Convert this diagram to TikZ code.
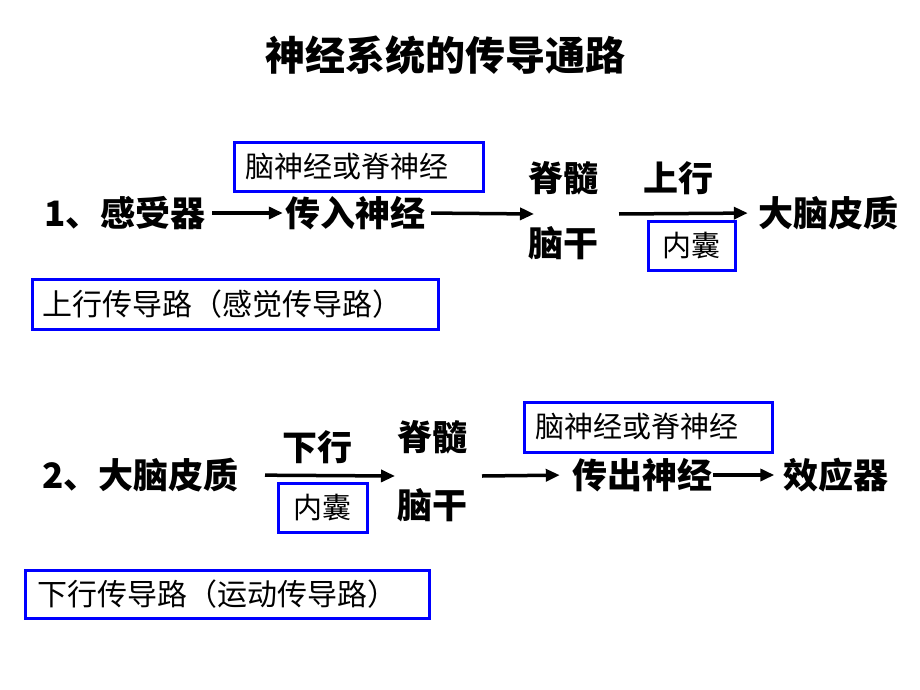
\documentclass[tikz,border=0pt]{standalone}
\usepackage{fontspec}
\setmainfont{Liberation Sans}
\newfontfamily\cjk{Noto Sans CJK SC}
\usetikzlibrary{arrows.meta}
\tikzset{
  big/.style={font=\cjk\bfseries\fontsize{35}{40}\selectfont,inner sep=0pt},
  small/.style={font=\cjk\fontsize{29}{34}\selectfont},
  bluebox/.style={draw=blue,line width=3pt,inner ysep=0pt,align=left},
  arr/.style={-{Triangle[length=14pt,width=12pt]},line width=3.5pt}
}
\begin{document}
\begin{tikzpicture}[x=1pt,y=-1pt]
\useasboundingbox (0,0) rectangle (920,690);
\coordinate (in1) at (534,214);
\coordinate (out1) at (619,214);
\coordinate (in2) at (395,476);
\coordinate (out2) at (482,476);

\node[font=\cjk\bfseries\fontsize{40}{46}\selectfont] (title) at (445,55) {神经系统的传导通路};

\node[big,anchor=east] (receptor) at (206,213) {1、感受器};
\node[big] (afferent) at (355,213) {传入神经};
\node[big] (spine1) at (563,178) {脊髓};
\node[big] (stem1) at (563,243) {脑干};
\node[big] (up) at (678,178) {上行};
\node[big] (cortex1) at (828,213) {大脑皮质};
\node[bluebox,small,text width=227pt,inner xsep=11pt,minimum height=49pt] (nerve1) at (358.5,166.5) {脑神经或脊神经};
\node[bluebox,small,minimum width=87pt,minimum height=49pt] (capsule1) at (691.5,245.5) {内囊};
\node[bluebox,small,font=\cjk\fontsize{30}{34}\selectfont,text width=386pt,inner xsep=10pt,minimum height=50pt] (ascend) at (235,304) {上行传导路（感觉传导路）};

\draw[arr,shorten <=6pt,shorten >=2pt] (receptor.east) -- (afferent.west);
\draw[arr,shorten <=6pt] (afferent.east) -- (in1);
\draw[arr,shorten >=10pt] (out1) -- (cortex1.west);

\node[big,anchor=east] (cortex2) at (239,475) {2、大脑皮质};
\node[big] (down) at (317,447) {下行};
\node[big] (spine2) at (432,437) {脊髓};
\node[big] (stem2) at (432,505) {脑干};
\node[big] (efferent) at (642,475) {传出神经};
\node[big] (effector) at (836,475) {效应器};
\node[bluebox,small,minimum width=89pt,minimum height=49pt] (capsule2) at (322.5,507.5) {内囊};
\node[bluebox,small,text width=226pt,inner xsep=11pt,minimum height=50pt] (nerve2) at (648,427) {脑神经或脊神经};
\node[bluebox,small,font=\cjk\fontsize{30}{34}\selectfont,text width=380pt,inner xsep=12pt,minimum height=48pt] (descend) at (227,594) {下行传导路（运动传导路）};

\draw[arr,shorten <=26pt] (cortex2.east) -- (in2);
\draw[arr,shorten >=12pt] (out2) -- (efferent.west);
\draw[arr,shorten <=1pt,shorten >=9pt] (efferent.east) -- (effector.west);
\end{tikzpicture}
\end{document}
